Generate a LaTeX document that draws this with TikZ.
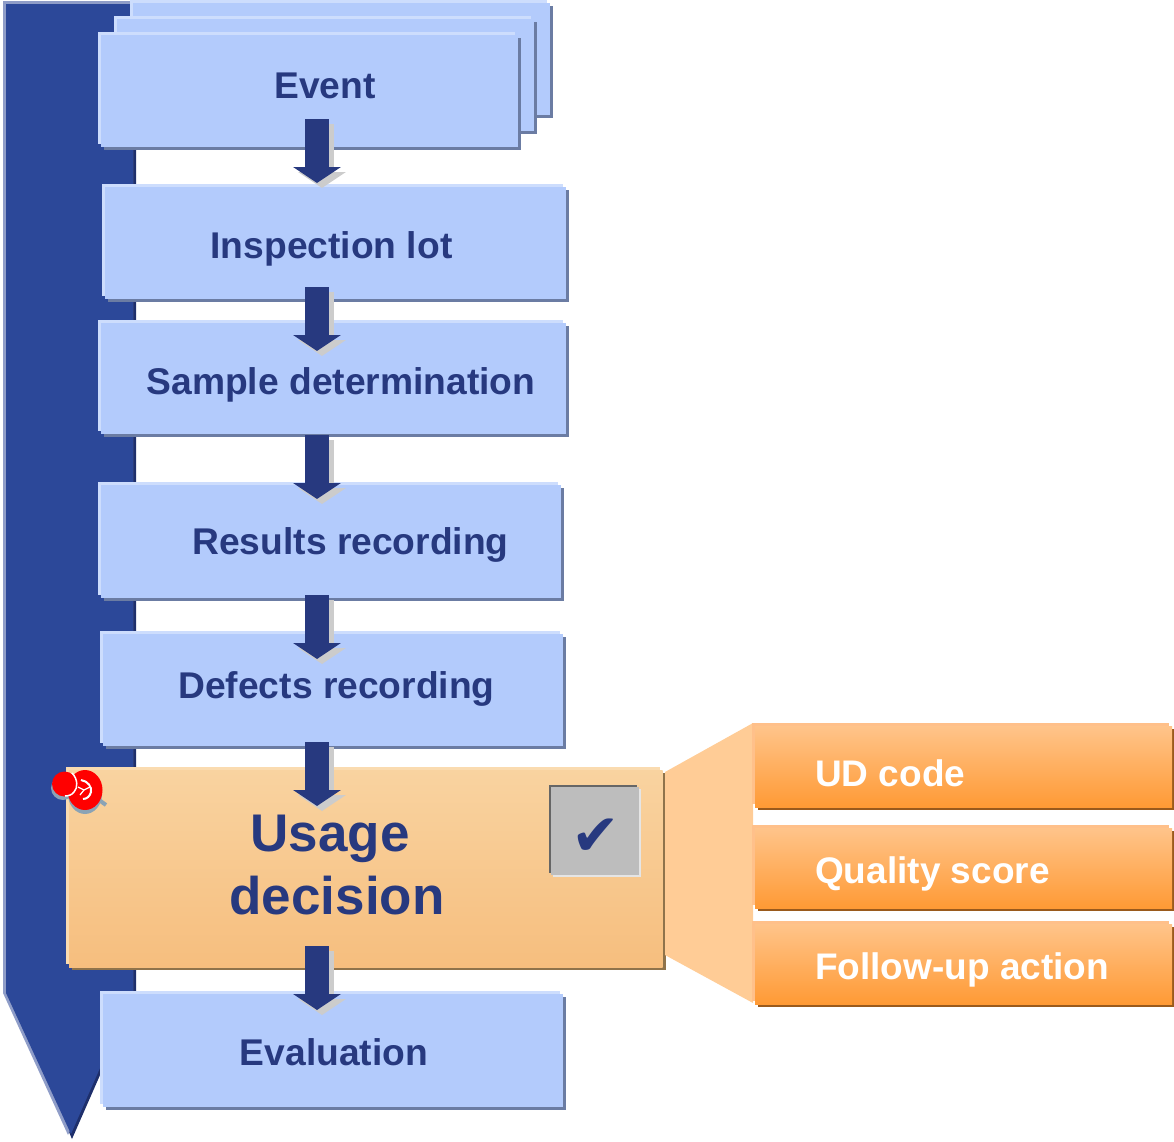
\documentclass[tikz,border=0pt]{standalone}
\usepackage{fontspec}
\setmainfont{Liberation Sans}
\newfontfamily\symbolfont{DejaVu Sans}
\usetikzlibrary{arrows.meta,shadows}

\definecolor{bandmain}{HTML}{2C4899}
\definecolor{bandlight}{HTML}{8F9DC8}
\definecolor{banddark}{HTML}{1E2F6B}
\definecolor{flowmain}{HTML}{B3CBFC}
\definecolor{flowlight}{HTML}{CDDDFD}
\definecolor{flowshade}{HTML}{6B7CA3}
\definecolor{flowtext}{HTML}{27397F}
\definecolor{usagetop}{HTML}{F9D3A0}
\definecolor{usagebottom}{HTML}{F6BE7E}
\definecolor{usagelight}{HTML}{FADBB0}
\definecolor{usageshade}{HTML}{8F734B}
\definecolor{fancolor}{HTML}{FFCC96}
\definecolor{subtop}{HTML}{FFC48A}
\definecolor{submiddle}{HTML}{FFB56B}
\definecolor{subbottom}{HTML}{FF9A35}
\definecolor{sublight}{HTML}{FFC08A}
\definecolor{subshade}{HTML}{9A5A1C}
\definecolor{pinshade}{HTML}{8BA3B5}

\tikzset{
	flowbox/.style={rectangle, inner sep=0pt, fill=flowmain,
		general shadow={shadow xshift=3pt, shadow yshift=-3pt, fill=flowshade},
		general shadow={shadow xshift=-3pt, shadow yshift=3pt, fill=flowlight}},
	usagebox/.style={rectangle, inner sep=0pt,
		general shadow={shadow xshift=3pt, shadow yshift=-3pt, fill=usageshade},
		general shadow={shadow xshift=-3pt, shadow yshift=3pt, fill=usagelight},
		top color=usagetop, bottom color=usagebottom},
	subbox/.style={rectangle, inner sep=0pt, minimum width=417pt,
		general shadow={shadow xshift=3pt, shadow yshift=-3pt, fill=subshade},
		general shadow={shadow xshift=-3pt, shadow yshift=3pt, fill=sublight},
		top color=subtop, middle color=submiddle, bottom color=subbottom},
	flowtext/.style={text=flowtext, font=\bfseries\fontsize{37.2}{44}\selectfont, anchor=base},
	subtext/.style={text=white, inner sep=0pt, font=\bfseries\fontsize{37}{44}\selectfont, anchor=base west},
	flowarrow/.style={line width=24pt, draw=flowtext, -{Triangle[length=16pt,width=47pt]}},
	arrowshadow/.style={line width=24pt, draw=black!20, -{Triangle[length=16pt,width=47pt]}}
}

\begin{document}
\begin{tikzpicture}[x=1pt,y=-1pt]
	\useasboundingbox (0,0) rectangle (1174,1141);

	% left band
	\fill[banddark]		(9,3) -- (136,3) -- (136,993) -- (72,1139) -- (9,993) -- cycle;
	\fill[bandlight]	(3,1) -- (133,1) -- (133,993) -- (68,1135) -- (3,993) -- cycle;
	\fill[bandmain]		(6,4) -- (133,4) -- (133,993) -- (71,1134) -- (6,993) -- cycle;

	% event stack
	\node[flowbox, minimum width=417pt, minimum height=112pt] (eventback) at (341.5,59) {};
	\node[flowbox, minimum width=417pt, minimum height=112pt] (eventmid) at (325.5,75) {};
	\node[flowbox, minimum width=417pt, minimum height=112pt] (event) at (309.5,91) {};

	% process steps
	\node[flowbox, minimum width=461pt, minimum height=112pt] (inspection) at (335.5,243) {};
	\node[flowbox, minimum width=465pt, minimum height=111pt] (sample) at (333.5,378.5) {};
	\node[flowbox, minimum width=460pt, minimum height=113pt] (results) at (331,541.5) {};
	\node[flowbox, minimum width=460pt, minimum height=112pt] (defects) at (333,690) {};
	\node[flowbox, minimum width=460pt, minimum height=113pt] (evaluation) at (333,1050.5) {};
	\node[usagebox, minimum width=593.5pt, minimum height=197pt] (usage) at (365.75,868.5) {};

	% fan and its three boxes
	\coordinate (fanA) at (665,772);
	\coordinate (fanB) at (753,723);
	\coordinate (fanC) at (753,1003);
	\coordinate (fanD) at (665,955);
	\fill[fancolor] (fanA) -- (fanB) -- (fanC) -- (fanD) -- cycle;
	\node[subbox, minimum height=81pt] (udcode) at (963.5,766.5) {};
	\node[subbox, minimum height=80pt] (score) at (963.5,868) {};
	\node[subbox, minimum height=80pt] (followup) at (963.5,964) {};

	% check box
	\node[rectangle, inner sep=0pt, minimum size=88pt, fill=black!26,
		general shadow={shadow xshift=2pt, shadow yshift=-2pt, fill=black!10},
		general shadow={shadow xshift=-2pt, shadow yshift=2pt, fill=black!60}] (check) at (594.5,831) {};
	\node[inner sep=0pt, text=flowtext, font=\symbolfont\fontsize{58}{58}\selectfont] (checkmark) at (596,837) {✔};

	% labels
	\node[flowtext] (eventtext) at (325,98) {Event};
	\node[flowtext] (inspectiontext) at (331.5,258) {Inspection lot};
	\node[flowtext] (sampletext) at (341,394) {Sample determination};
	\node[flowtext] (resultstext) at (350.5,554) {Results recording};
	\node[flowtext] (defectstext) at (336.5,698) {Defects recording};
	\node[flowtext] (evaluationtext) at (334,1065) {Evaluation};
	\node[text=flowtext, font=\bfseries\fontsize{53}{63}\selectfont, align=center] (usagetext) at (337,865)
		{Usage\hspace*{14pt}\\decision};
	\node[subtext] (udtext) at (815,786) {UD code};
	\node[subtext] (scoretext) at (815,883) {Quality score};
	\node[subtext] (followtext) at (815,979) {Follow-up action};

	% arrows between the steps
	\coordinate (eventout) at (317,119);		\coordinate (inspectionin) at (317,183);
	\coordinate (inspectionout) at (317,287);	\coordinate (samplein) at (317,351);
	\coordinate (sampleout) at (317,435);		\coordinate (resultsin) at (317,499);
	\coordinate (resultsout) at (317,595);		\coordinate (defectsin) at (317,659);
	\coordinate (defectsout) at (317,742);		\coordinate (usagein) at (317,806);
	\coordinate (usageout) at (317,946);		\coordinate (evaluationin) at (317,1010);
	\foreach \from/\to in {eventout/inspectionin, inspectionout/samplein, sampleout/resultsin,
			resultsout/defectsin, defectsout/usagein, usageout/evaluationin} {
		\draw[arrowshadow] ([shift={(5pt,-5pt)}]\from) -- ([shift={(5pt,-5pt)}]\to);
		\draw[flowarrow] (\from) -- (\to);
	}

	% pin
	\fill[pinshade] (85,794) ellipse (17 and 20);
	\fill[pinshade] (63,788) circle (12);
	\draw[pinshade, line width=4pt] (95,797) -- (106,805);
	\fill[red] (85,790) ellipse (17.5 and 20);
	\fill[red] (64.5,784) circle (12.5);
	\draw[white, line width=1.5pt] (72,773) .. controls (78,779) and (78,788) .. (74,792) .. controls (72,795) and (68,796) .. (65,796);
	\draw[white, line width=2pt] (81,780) .. controls (88,781) and (92,787) .. (91,792) .. controls (90,796) and (87,799) .. (83,799);
	\draw[white, line width=1.2pt] (78,787) -- (84,790) -- (90,787);
	\draw[white, line width=1.2pt] (84,790) -- (80,795);
\end{tikzpicture}
\end{document}
